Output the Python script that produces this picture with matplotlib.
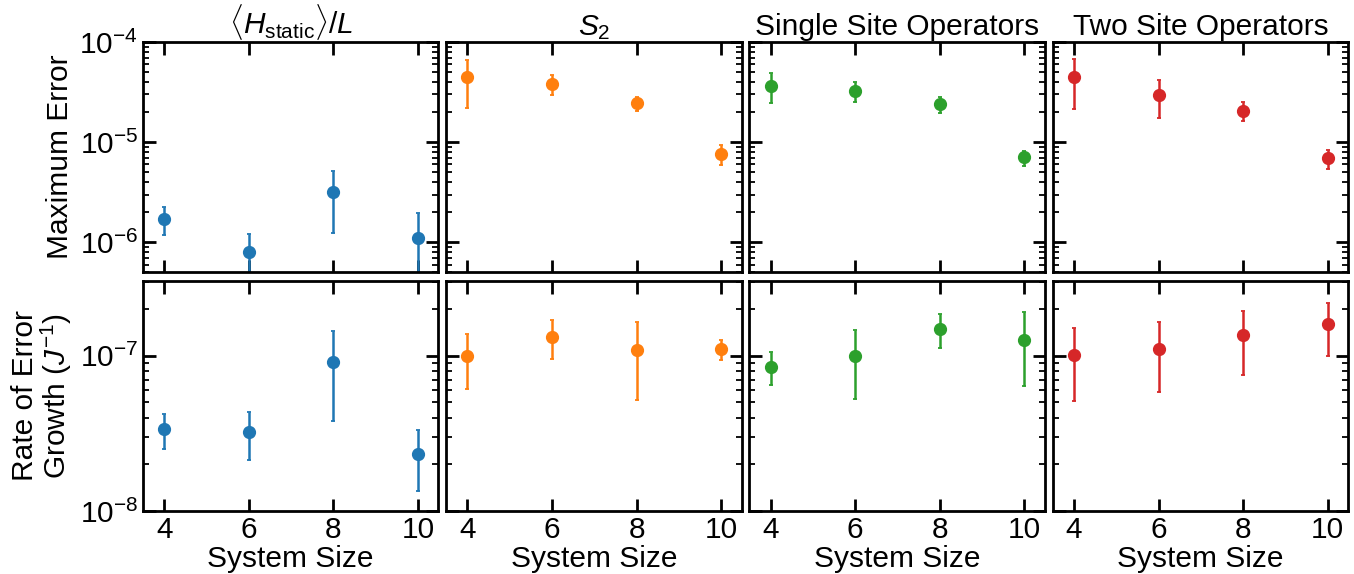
import numpy as np
import matplotlib
matplotlib.use("Agg")
import matplotlib.pyplot as plt
from matplotlib.ticker import LogLocator, NullFormatter

plt.rcParams["font.family"] = ["Liberation Sans", "DejaVu Sans"]
plt.rcParams["mathtext.fontset"] = "custom"
plt.rcParams["mathtext.rm"] = "Liberation Sans"
plt.rcParams["mathtext.it"] = "Liberation Sans:italic"
plt.rcParams["mathtext.bf"] = "Liberation Sans:bold"
FS = 21.5
plt.rcParams["font.size"] = FS

sizes = [4, 6, 8, 10]
titles = [r"$\langle H_{\mathrm{static}}\rangle/L$", r"$S_2$",
          "Single Site Operators", "Two Site Operators"]
colors = ["#1f77b4", "#ff7f0e", "#2ca02c", "#d62728"]

# maximum error (top row)
max_err = [
    [1.72e-6, 8.0e-7, 3.18e-6, 1.11e-6],
    [4.43e-5, 3.83e-5, 2.44e-5, 7.64e-6],
    [3.66e-5, 3.24e-5, 2.40e-5, 7.03e-6],
    [4.45e-5, 2.93e-5, 2.07e-5, 6.87e-6],
]
max_err_sd = [
    [5.4e-7, 4.0e-7, 1.93e-6, 8.3e-7],
    [2.25e-5, 9.0e-6, 4.0e-6, 1.7e-6],
    [1.22e-5, 7.3e-6, 4.5e-6, 1.2e-6],
    [2.3e-5, 1.2e-5, 4.6e-6, 1.5e-6],
]

# rate of error growth (bottom row)
rate = [
    [3.35e-8, 3.24e-8, 9.1e-8, 2.32e-8],
    [1.00e-7, 1.32e-7, 1.09e-7, 1.10e-7],
    [8.49e-8, 1.00e-7, 1.49e-7, 1.27e-7],
    [1.01e-7, 1.11e-7, 1.35e-7, 1.59e-7],
]
rate_sd = [
    [8.6e-9, 1.1e-8, 5.3e-8, 9.8e-9],
    [3.9e-8, 3.7e-8, 5.7e-8, 1.6e-8],
    [2.05e-8, 4.7e-8, 3.7e-8, 6.3e-8],
    [5.0e-8, 5.3e-8, 6.0e-8, 6.0e-8],
]

fig, axes = plt.subplots(2, 4, figsize=(13.54, 5.74), dpi=100,
                         sharex=True, sharey="row")
fig.subplots_adjust(left=0.1056, right=0.9956, top=0.9268, bottom=0.1098,
                    wspace=0.027, hspace=0.035)

for i in range(4):
    for row, (vals, errs) in enumerate([(max_err, max_err_sd), (rate, rate_sd)]):
        ax = axes[row, i]
        ax.errorbar(sizes, vals[i], yerr=errs[i], fmt="o", color=colors[i],
                    markersize=8.5, elinewidth=1.8, capsize=1.5, capthick=1.3)
        ax.set_yscale("log")
        for s in ax.spines.values():
            s.set_linewidth(2)
        ax.tick_params(which="major", direction="in", length=9, width=2,
                       top=True, right=True, labelsize=FS)
        ax.tick_params(which="minor", direction="in", length=4.5, width=1.3,
                       top=False, right=True)
        ax.xaxis.set_minor_locator(plt.NullLocator())
        ax.yaxis.set_minor_locator(LogLocator(base=10, subs=np.arange(2, 10)))
        ax.yaxis.set_minor_formatter(NullFormatter())
    axes[0, i].set_title(titles[i], fontsize=FS, pad=5)
    axes[1, i].set_xlabel("System Size", fontsize=FS, labelpad=1)

axes[0, 0].set_ylim(5e-7, 1e-4)
axes[1, 0].set_ylim(1e-8, 3.05e-7)
axes[0, 0].yaxis.set_major_locator(LogLocator(base=10, numticks=10))
axes[1, 0].yaxis.set_major_locator(LogLocator(base=10, numticks=10))
axes[1, 0].set_xlim(3.5, 10.48)
axes[1, 0].set_xticks(sizes)

axes[0, 0].set_ylabel("Maximum Error", fontsize=FS, labelpad=4)
axes[1, 0].set_ylabel("Rate of Error\nGrowth ($J^{-1}$)", fontsize=FS,
                      labelpad=4, linespacing=1.0)

fig.savefig("out.png", dpi=100)
